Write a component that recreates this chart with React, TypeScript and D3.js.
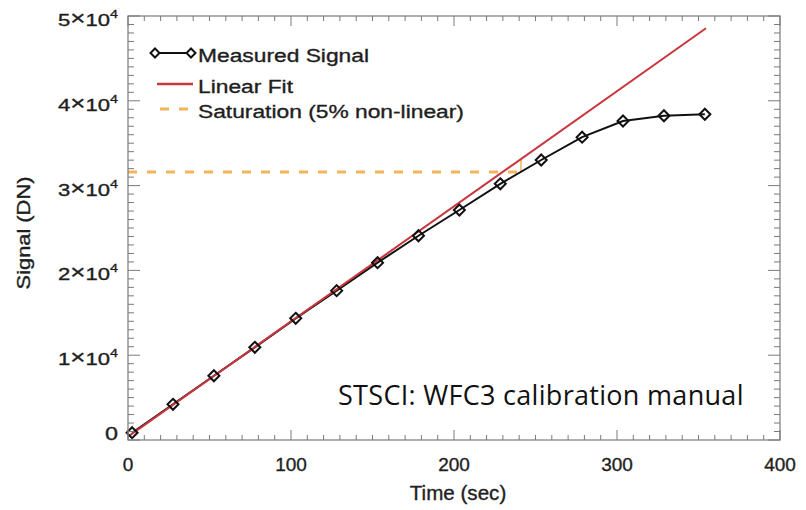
import React from "react";
import * as d3 from "d3";

const times = [2.5, 27.6, 52.7, 77.8, 102.9, 128.0, 153.1, 178.2, 203.3, 228.4, 253.5, 278.6, 303.7, 328.8, 353.9];
const signal = [860, 4210, 7580, 10930, 14350, 17610, 20910, 24090, 27120, 30210, 33020, 35710, 37620, 38240, 38410];
const fitTime = [0, 354.6];
const fitSignal = [400, 48550];
const satTime = 241.1;
const satLevel = 31600;
const xTicks = [0, 100, 200, 300, 400];
const yTicks = [0, 10000, 20000, 30000, 40000, 50000];
const yTickMantissa = ["0", "1", "2", "3", "4", "5"];
const legendLabels = ["Measured Signal", "Linear Fit", "Saturation (5% non-linear)"];
const credit = "STSCI: WFC3 calibration manual";

const W = 806, H = 510;
const L = 128, R = 780, T = 16, B = 440;
const RED = "#c8363e";
const ORANGE = "#f3b45a";
const AXIS = "#7a7a7a";
const INK = "#1e1e1e";
const FONT = "'Liberation Sans', Arial, Helvetica, sans-serif";

export default function App() {
  const x = d3.scaleLinear().domain([0, 400]).range([L, R]);
  const y = d3.scaleLinear().domain([0, 50000]).range([B, T]);

  const xMinor = d3.range(0, 401, 10);
  const yMinor = d3.range(0, 50001, 1000);

  const line = d3.line<number>().x((_, i) => x(times[i])).y((d) => y(d));
  const fitLine = d3.line<number>().x((_, i) => x(fitTime[i])).y((d) => y(d));
  const fitAt = (t: number) => fitSignal[0] + ((fitSignal[1] - fitSignal[0]) / (fitTime[1] - fitTime[0])) * (t - fitTime[0]);

  const diamond = (cx: number, cy: number, r = 5.5) =>
    `M${cx},${cy - r}L${cx + r},${cy}L${cx},${cy + r}L${cx - r},${cy}Z`;

  const ticks: JSX.Element[] = [];
  xMinor.forEach((v, i) => {
    const major = v % 100 === 0;
    const len = major ? 10 : 5;
    ticks.push(<line key={"xb" + i} x1={x(v)} x2={x(v)} y1={B} y2={B - len} stroke={AXIS} strokeWidth={1} />);
    ticks.push(<line key={"xt" + i} x1={x(v)} x2={x(v)} y1={T} y2={T + len} stroke={AXIS} strokeWidth={1} />);
  });
  yMinor.forEach((v, i) => {
    const major = v % 10000 === 0;
    const len = major ? 12 : 6;
    ticks.push(<line key={"yl" + i} x1={L} x2={L + len} y1={y(v)} y2={y(v)} stroke={AXIS} strokeWidth={1} />);
    ticks.push(<line key={"yr" + i} x1={R} x2={R - len} y1={y(v)} y2={y(v)} stroke={AXIS} strokeWidth={1} />);
  });

  const legY = [53, 84, 109];
  const legX0 = 155, legX1 = 191;
  const textWeight = { stroke: INK, strokeWidth: 0.35 };

  return (
    <svg width={W} height={H} style={{ position: "absolute", left: 0, top: 0, background: "#fff" }} fontFamily={FONT}>
      <rect x={0} y={0} width={W} height={H} fill="#fff" />
      {/* saturation */}
      <line x1={x(0)} x2={x(satTime)} y1={y(satLevel)} y2={y(satLevel)} stroke={ORANGE} strokeWidth={3} strokeDasharray="9,10" />
      <line x1={x(satTime)} x2={x(satTime)} y1={y(satLevel)} y2={y(fitAt(satTime))} stroke={ORANGE} strokeWidth={1.5} />
      {/* measured */}
      <path d={line(signal) || ""} fill="none" stroke="#111" strokeWidth={2} />
      {/* linear fit */}
      <path d={fitLine(fitSignal) || ""} fill="none" stroke={RED} strokeWidth={2} />
      {signal.map((s, i) => (
        <path key={"m" + i} d={diamond(x(times[i]), y(s))} fill="none" stroke="#111" strokeWidth={2} />
      ))}
      {/* frame */}
      <rect x={L} y={T} width={R - L} height={B - T} fill="none" stroke={AXIS} strokeWidth={1.2} />
      {ticks}
      {/* x labels */}
      {xTicks.map((v) => (
        <text key={"xl" + v} x={x(v)} y={471} textAnchor="middle" fontSize={19} fill={INK} {...textWeight}>{v}</text>
      ))}
      {yTicks.map((v, i) => (
        <g key={"yl" + v} transform={`translate(118,${v === 0 ? y(v) : y(v) + 10}) scale(1.3,1)`}>
          {v === 0 ? (
            <text x={0} y={0} textAnchor="end" fontSize={18} fill={INK} {...textWeight}>0</text>
          ) : (
            <text x={0} y={0} textAnchor="end" fontSize={17} fill={INK} {...textWeight}>
              {yTickMantissa[i]}<tspan fontSize={20} dy={-1}>×</tspan><tspan dy={1}>10</tspan>
              <tspan dy={-8} fontSize={11}>4</tspan>
            </text>
          )}
        </g>
      ))}
      <g transform={`translate(458,500) scale(1.03,1)`}>
        <text x={0} y={0} textAnchor="middle" fontSize={20} fill={INK} {...textWeight}>Time (sec)</text>
      </g>
      <g transform={`translate(30,233) rotate(-90) scale(1.15,1)`}>
        <text x={0} y={0} textAnchor="middle" fontSize={19} fill={INK} {...textWeight}>Signal (DN)</text>
      </g>
      {/* legend */}
      <line x1={legX0} x2={legX1} y1={legY[0]} y2={legY[0]} stroke="#111" strokeWidth={2} />
      <path d={diamond(legX0, legY[0], 4.5)} fill="#fff" stroke="#111" strokeWidth={2} />
      <path d={diamond(legX1, legY[0], 4.5)} fill="#fff" stroke="#111" strokeWidth={2} />
      <line x1={legX0 + 2} x2={legX1 + 2} y1={legY[1]} y2={legY[1]} stroke={RED} strokeWidth={2.5} />
      <line x1={legX0 + 5} x2={legX1} y1={legY[2]} y2={legY[2]} stroke={ORANGE} strokeWidth={3} strokeDasharray="9,10" />
      {legendLabels.map((t, i) => (
        <g key={"lg" + i} transform={`translate(198,${legY[i] + 9}) scale(1.2,1)`}>
          <text x={0} y={0} fontSize={19} fill={INK} {...textWeight}>{t}</text>
        </g>
      ))}
      <text x={338} y={405} fontSize={27} letterSpacing={0.3} fontFamily="'Open Sans', sans-serif" fill="#111">{credit}</text>
    </svg>
  );
}
